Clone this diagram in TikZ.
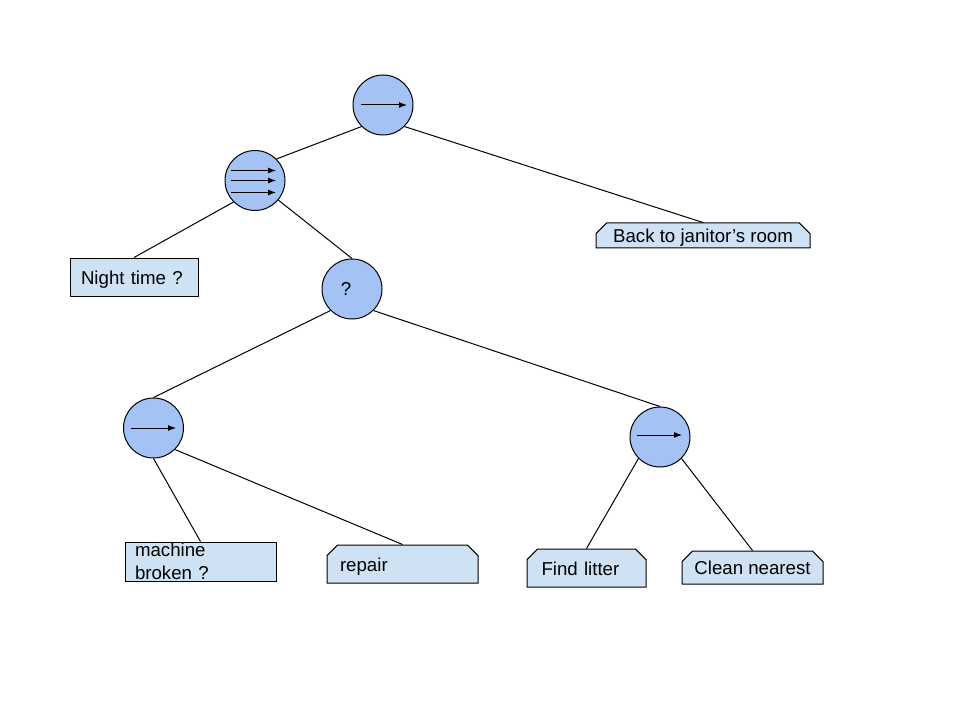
\documentclass[tikz,border=0pt]{standalone}
\usepackage{fontspec}
\setmainfont{Liberation Sans}
\usetikzlibrary{shapes.misc,arrows.meta}
\definecolor{circfill}{HTML}{A4C2F4}
\definecolor{boxfill}{HTML}{CFE2F3}
\begin{document}
\begin{tikzpicture}[x=0.75pt,y=-0.75pt,
  every node/.style={font=\fontsize{14pt}{17.25pt}\selectfont},
  circ/.style={circle, draw=black, fill=circfill, line width=0.75pt, minimum size=45pt, inner sep=0pt},
  plainbox/.style={rectangle, draw=black, fill=boxfill, line width=0.75pt, inner xsep=0pt, inner ysep=0pt, align=left},
  chbox/.style={plainbox, chamfered rectangle, chamfered rectangle xsep=4pt, chamfered rectangle ysep=4pt, chamfered rectangle corners={north west,north east}},
  conn/.style={draw=black, line width=0.75pt},
  inarrow/.style={draw=black, line width=0.75pt, -{Latex[length=6pt,width=4.5pt]}},
  sline/.style={text height=12pt, text depth=1pt}
]
\fill[white] (0,0) rectangle (960,720);
\useasboundingbox (0,0) rectangle (960,720);

% circles
\node[circ] (root) at (383,105) {};
\node[circ] (seq) at (255,180.5) {};
\node[circ] (q) at (352,289) {?\kern9pt};
\node[circ] (lseq) at (153.5,428) {};
\node[circ] (rseq) at (660,437) {};

% boxes
\node[chbox, minimum width=160.5pt, minimum height=18.75pt, text height=10pt, text depth=0pt] (back) at (703,235.5) {Back to janitor’s room};
\node[plainbox, minimum width=96pt, minimum height=29pt, text width=79.5pt, sline] (night) at (134,277.35) {Night time ?};
\node[plainbox, minimum width=113.25pt, minimum height=29.25pt, text width=98.25pt] (machine) at (200.5,561.5) {machine\\broken ?};
\node[chbox, minimum width=113.25pt, minimum height=28.5pt, text width=93.75pt, sline] (repair) at (402.5,564) {repair};
\node[chbox, minimum width=89.25pt, minimum height=28.5pt, text width=67.5pt, sline] (find) at (586.5,568) {Find litter};
\node[chbox, minimum width=105.75pt, minimum height=24.75pt, sline] (clean) at (752.5,567.5) {Clean nearest};

% arrows inside circles
\draw[inarrow] ([xshift=-16.5pt]root.center) -- ([xshift=18pt]root.center);
\draw[inarrow] ([xshift=-18pt,yshift=7.5pt]seq.center) -- ([xshift=15.75pt,yshift=7.5pt]seq.center);
\draw[inarrow] ([xshift=-18pt]seq.center) -- ([xshift=15.75pt]seq.center);
\draw[inarrow] ([xshift=-18pt,yshift=-9pt]seq.center) -- ([xshift=15.75pt,yshift=-9pt]seq.center);
\draw[inarrow] ([xshift=-16.9pt]lseq.center) -- ([xshift=16.9pt]lseq.center);
\draw[inarrow] ([xshift=-17.25pt,yshift=1.5pt]rseq.center) -- ([xshift=16.5pt,yshift=1.5pt]rseq.center);

% connectors
\draw[conn] (root.-135) -- (seq.45);
\draw[conn] (root.-45) -- (back.north);
\draw[conn] (seq.-135) -- (night.north);
\draw[conn] (seq.-40) -- (q.north);
\draw[conn] (q.-135) -- (lseq.north);
\draw[conn] (q.-45) -- (rseq.north);
\draw[conn] (lseq.south) -- (machine.north);
\draw[conn] (lseq.-45) -- (repair.north);
\draw[conn] (rseq.-135) -- (find.north);
\draw[conn] (rseq.-45) -- (clean.north);
\end{tikzpicture}
\end{document}
